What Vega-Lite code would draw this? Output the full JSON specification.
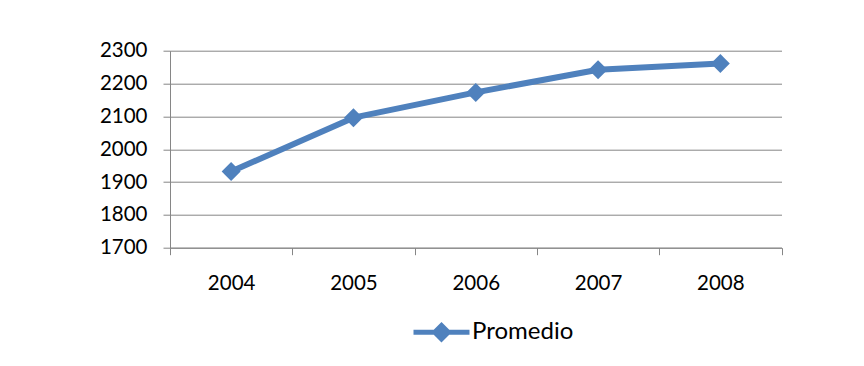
{
  "$schema": "https://vega.github.io/schema/vega-lite/v6.json",
  "width": 611.5,
  "height": 197,
  "autosize": {"type": "none"},
  "padding": {"left": 170, "top": 50.7, "right": 82.5, "bottom": 118.3},
  "background": "white",
  "config": {"font": "Lato", "view": {"stroke": null}},
  "data": {
    "values": [
      {"year": "2004", "value": 1932, "series": "Promedio"},
      {"year": "2005", "value": 2096, "series": "Promedio"},
      {"year": "2006", "value": 2173, "series": "Promedio"},
      {"year": "2007", "value": 2242, "series": "Promedio"},
      {"year": "2008", "value": 2261, "series": "Promedio"}
    ]
  },
  "encoding": {
    "x": {
      "field": "year",
      "type": "ordinal",
      "bandPosition": 0.5,
      "scale": {"type": "band", "paddingInner": 0, "paddingOuter": 0},
      "axis": {
        "title": null,
        "tickBand": "extent",
        "labelAngle": 0,
        "tickSize": 7,
        "labelPadding": 19,
        "labelFontSize": 20.5,
        "labelColor": "black",
        "grid": false,
        "domainColor": "#868686",
        "tickColor": "#868686"
      }
    },
    "y": {
      "field": "value",
      "type": "quantitative",
      "scale": {"domain": [1700, 2300], "nice": false, "zero": false},
      "axis": {
        "title": null,
        "format": "d",
        "values": [1700, 1800, 1900, 2000, 2100, 2200, 2300],
        "tickSize": 7,
        "labelPadding": 16,
        "labelFontSize": 20.5,
        "labelColor": "black",
        "domainColor": "#868686",
        "tickColor": "#868686",
        "gridColor": "#868686",
        "gridOpacity": 1
      }
    }
  },
  "layer": [
    {
      "mark": {"type": "line", "strokeWidth": 6, "strokeJoin": "round"},
      "encoding": {
        "color": {
          "field": "series",
          "type": "nominal",
          "scale": {"range": ["#4F81BD"]},
          "legend": {
            "title": null,
            "orient": "none",
            "legendX": 241,
            "legendY": 251,
            "symbolType": "M-1,0H1M0,-0.24L0.24,0L0,0.24L-0.24,0Z",
            "symbolSize": 3136,
            "symbolStrokeWidth": 5,
            "symbolFillColor": "#4F81BD",
            "labelFontSize": 24,
            "labelColor": "black",
            "labelOffset": 0,
            "encode": {
              "symbols": {
                "update": {
                  "fill": {"value": "#4F81BD"},
                  "stroke": {"value": "#4F81BD"},
                  "strokeWidth": {"value": 5},
                  "opacity": {"value": 1}
                }
              }
            }
          }
        }
      }
    },
    {
      "mark": {"type": "point", "shape": "diamond", "filled": true, "size": 360, "opacity": 1, "color": "#4F81BD"}
    }
  ]
}
